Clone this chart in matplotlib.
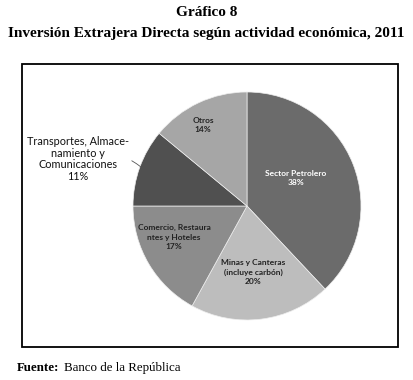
import matplotlib.pyplot as plt
from matplotlib.patches import Rectangle

# data
sectores = ["Sector Petrolero", "Minas y Canteras\n(incluye carbón)",
            "Comercio, Restaura\nntes y Hoteles",
            "Transportes, Almace-\nnamiento y\nComunicaciones", "Otros"]
porcentajes = [38, 20, 17, 11, 14]
colores = ["#6b6b6b", "#bdbdbd", "#8c8c8c", "#505050", "#a6a6a6"]

W, H = 413, 380
fig = plt.figure(figsize=(W / 100, H / 100), dpi=100)
fig.patch.set_facecolor("white")

# frame around the chart
fig.add_artist(Rectangle((22 / W, 1 - 347 / H), 376 / W, 283 / H,
                         transform=fig.transFigure, fill=False,
                         edgecolor="black", linewidth=1.3))

cx, cy, R = 247, 206, 114
ax = fig.add_axes([(cx - R) / W, 1 - (cy + R) / H, 2 * R / W, 2 * R / H])
wedges, _ = ax.pie(porcentajes, colors=colores, startangle=90, counterclock=False,
                   radius=1, wedgeprops=dict(linewidth=0.5, edgecolor="#eeeeee"))
ax.set_xlim(-1, 1)
ax.set_ylim(-1, 1)
ax.set_aspect("equal")
ax.axis("off")

def px(x, y):
    return ((x - cx) / R, (cy - y) / R)

fnt = "Lato"
lab_pos = [(296, 178), (253, 272), (174, 237), None, (203, 125)]
lab_col = ["white", "#222222", "#222222", None, "#222222"]
for i, (s, p) in enumerate(zip(sectores, porcentajes)):
    if lab_pos[i] is None:
        continue
    ax.text(*px(*lab_pos[i]), f"{s}\n{p}%", ha="center", va="center",
            fontsize=6.0, fontweight="bold", color=lab_col[i],
            family=fnt, linespacing=1.35)

ax.annotate(f"{sectores[3]}\n{porcentajes[3]}%", xy=px(141, 167), xytext=px(78, 159),
            ha="center", va="center", fontsize=7.8, family=fnt, color="#111111",
            linespacing=1.05,
            arrowprops=dict(arrowstyle="-", color="#555555", lw=0.6,
                            shrinkA=0, shrinkB=0,
                            connectionstyle="arc3,rad=-0.3"),
            annotation_clip=False)

serif = "Liberation Serif"
fig.text(0.5, 1 - 12 / H, "Gráfico 8", ha="center", va="center",
         fontsize=11, fontweight="bold", family=serif)
fig.text(0.5, 1 - 33 / H, "Inversión Extrajera Directa según actividad económica, 2011",
         ha="center", va="center", fontsize=11, fontweight="bold", family=serif)
fig.text(17 / W, 1 - 368 / H, "Fuente:", ha="left", va="center",
         fontsize=9.3, fontweight="bold", family=serif)
fig.text(64 / W, 1 - 368 / H, "Banco de la República", ha="left", va="center",
         fontsize=9.3, family=serif)

fig.savefig("out.png", dpi=100)
